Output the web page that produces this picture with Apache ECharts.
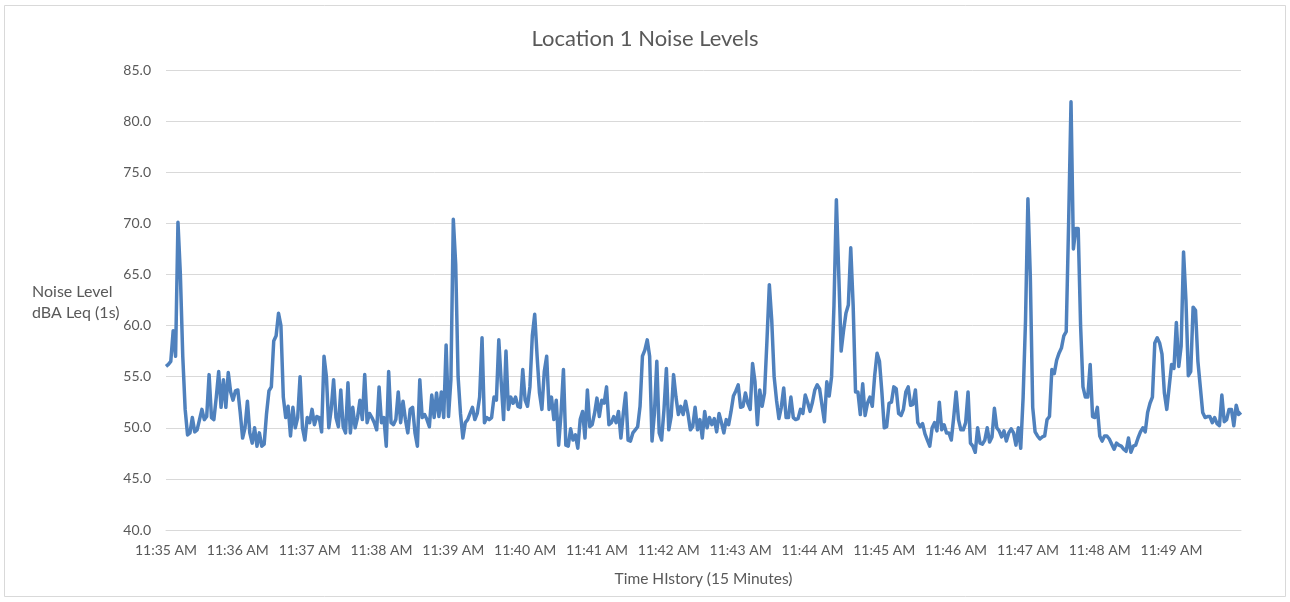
<!DOCTYPE html>
<html>
<head>
<meta charset="utf-8">
<script src="https://cdn.jsdelivr.net/npm/echarts@6/dist/echarts.min.js"></script>
<style>
html,body{margin:0;padding:0;background:#fff;}
#chart{width:1290px;height:602px;}
</style>
</head>
<body>
<div id="chart"></div>
<script>
// Noise level samples (dBA Leq, 1 s), read every 2 seconds, one array per minute
const m35 = [56,56.2,56.5,59.5,57,70.1,65,57,51.8,49.3,49.5,51,49.6,49.8,50.8,51.8,50.8,51.1,55.2,51,50.8,53,55.5,52,54.7,52,55.4,53.5,52.7,53.6];
const m36 = [53.7,51.5,49,50,52.6,49.5,48.5,50,48.2,49.5,48.2,48.4,51.4,53.6,54,58.5,59,61.2,60,53,51,52.1,49.2,52,50,51,55,50,48.8,51];
const m37 = [50.5,51.8,50.3,51.1,51,49.6,57,55,50,51.8,54.7,51,50.1,53.7,50.1,49.5,54.4,49.5,52,50,51,52.7,50.8,55.2,50.5,51.4,51,50.5,49.8,54];
const m38 = [50.5,51,48.2,55.5,50.5,50.3,50.8,53.5,50.5,52.6,50.8,49.5,51.8,52,49.5,48.2,54.7,51,51.3,50.8,50.1,53.2,51,53.4,51.1,53.5,51,58.1,51.1,54.7];
const m39 = [70.4,66,55,51.4,49,50.5,50.8,51.4,52,50.8,51.4,53,58.8,50.5,51,50.8,51,53,52.7,58.6,54.5,50.8,57.5,51.8,53,52.4,53,52.1,52,55.7];
const m40 = [52.7,52.1,54,59,61.1,57,53.4,51.8,55.5,57,51.8,53,50.8,52.7,48.3,51.4,55.7,48.3,48.2,49.9,48.8,49.3,48,50.8,51.6,49,53.7,50.1,50.3,51.4];
const m41 = [52.9,51.1,52.7,52.4,54,50.3,50.5,51.1,50.5,51.6,49,51.4,53.4,48.8,48.7,49.5,49.8,50.1,52.1,57,57.6,58.6,57,48.7,51.4,56.5,49.5,48.8,51.8,55.8];
const m42 = [49.8,51.1,55.2,53,51.3,52.1,51.3,52.6,51.4,49.8,50.1,52,49.8,50.8,49,51.6,50,51,50.3,50.9,49.6,51.4,50.5,49.5,50.8,50.3,51.6,53.1,53.6,54.2];
const m43 = [52,52.1,53.4,52.4,51.8,56.3,54.5,50.3,53.7,52.1,53.4,58.5,64,60.5,55,52.7,50.9,52,53.9,51,51,53,51,50.8,50.9,51.8,51.4,53.2,52.5,51.6];
const m44 = [52.5,53.7,54.2,53.8,52.2,50.6,54.5,53.1,55,62,72.3,65,57.5,59.5,61.2,62,67.6,62,53.5,53.5,51.3,54.3,51.2,52.4,53,52.1,55.1,57.3,56.5,53.5];
const m45 = [50,50.1,52.4,52.5,54,53.8,51.4,51.2,51.8,53.5,54,52.2,52.3,53.7,50.5,50.1,50.4,49.4,48.8,48.2,50,50.5,49.7,52.5,49.8,50.3,49.5,49.5,48.8,51];
const m46 = [53.5,50.8,49.8,49.8,50.5,53.5,48.5,48.2,47.6,50,48.5,48.4,48.8,50,48.6,49.1,51.9,50,49.7,49.1,49.7,48.7,49.5,49.9,49.5,48.3,50,48,53,60.5];
const m47 = [72.4,64.8,52,49.6,49.2,48.9,49.1,49.2,50.8,51.1,55.7,55.3,56.6,57.3,57.8,59,59.4,70,81.9,67.5,69.5,69.5,60,54,53,53,56.2,51.1,51,52];
const m48 = [49.2,48.7,49.2,49.2,48.9,48.4,47.9,48.5,48.3,48.2,47.9,47.7,49,47.6,48.2,48.3,49,49.6,50,49.6,51.5,52.4,53,58.3,58.8,58.3,57.2,53.4,51.8,54];
const m49 = [56.2,55.8,60.3,56,58,67.2,62.5,55.1,55.5,61.8,61.5,56.5,54,51.5,51,51.1,51.1,50.5,51,50.4,50.2,53.2,50.6,50.8,51.8,51.8,50.2,52.2,51.3,51.5];

const tickLabels = ['11:35 AM','11:36 AM','11:37 AM','11:38 AM','11:39 AM','11:40 AM','11:41 AM','11:42 AM','11:43 AM','11:44 AM','11:45 AM','11:46 AM','11:47 AM','11:48 AM','11:49 AM'];
const yTicks = [40, 45, 50, 55, 60, 65, 70, 75, 80, 85];

const values = [].concat(m35,m36,m37,m38,m39,m40,m41,m42,m43,m44,m45,m46,m47,m48,m49);
const perMinute = 30; // samples per minute (2 s step)
const categories = values.map((v, i) => {
  const sec = i * 2;
  const mm = 35 + Math.floor(sec / 60);
  const ss = sec % 60;
  return '11:' + mm + ':' + String(ss).padStart(2, '0') + ' AM';
});

const FONT = 'Lato, "Open Sans", sans-serif';
const chart = echarts.init(document.getElementById('chart'), null, {renderer: 'canvas'});
chart.setOption({
  animation: false,
  backgroundColor: '#ffffff',
  title: {
    text: 'Location 1 Noise Levels',
    left: 'center',
    top: 23,
    textStyle: {color: '#595959', fontSize: 22, fontWeight: 'normal', fontFamily: FONT}
  },
  graphic: [
    {type: 'rect', shape: {x: 4.5, y: 5.5, width: 1281, height: 591}, style: {fill: 'none', stroke: '#D9D9D9', lineWidth: 1}, silent: true},
    {type: 'text', left: 32, top: 281, style: {text: 'Noise Level\ndBA Leq (1s)', fill: '#595959', font: '16px ' + FONT, align: 'center', lineHeight: 21, width: 84}}
  ],
  grid: {left: 166, right: 49, top: 70, bottom: 72, containLabel: false},
  xAxis: {
    type: 'category',
    data: categories,
    boundaryGap: false,
    name: 'Time HIstory (15 Minutes)',
    nameLocation: 'middle',
    nameGap: 41,
    nameTextStyle: {color: '#595959', fontSize: 15.5, fontFamily: FONT},
    axisLine: {show: true, lineStyle: {color: '#D9D9D9'}},
    axisTick: {show: false},
    axisLabel: {
      interval: (i) => i % perMinute === 0,
      formatter: (v, i) => tickLabels[Math.round(i / perMinute)],
      color: '#595959', fontSize: 14, fontFamily: FONT, margin: 13
    },
    splitLine: {show: false}
  },
  yAxis: {
    type: 'value',
    min: yTicks[0],
    max: yTicks[yTicks.length - 1],
    interval: 5,
    axisLine: {show: false},
    axisTick: {show: false},
    axisLabel: {color: '#595959', fontSize: 14, fontFamily: FONT, margin: 15, formatter: (v) => v.toFixed(1)},
    splitLine: {show: true, lineStyle: {color: '#D9D9D9', width: 1}}
  },
  series: [{
    type: 'line',
    data: values,
    symbol: 'none',
    smooth: false,
    lineStyle: {color: '#4F81BD', width: 3.5, join: 'round'},
    itemStyle: {color: '#4F81BD'}
  }]
});
</script>
</body>
</html>
